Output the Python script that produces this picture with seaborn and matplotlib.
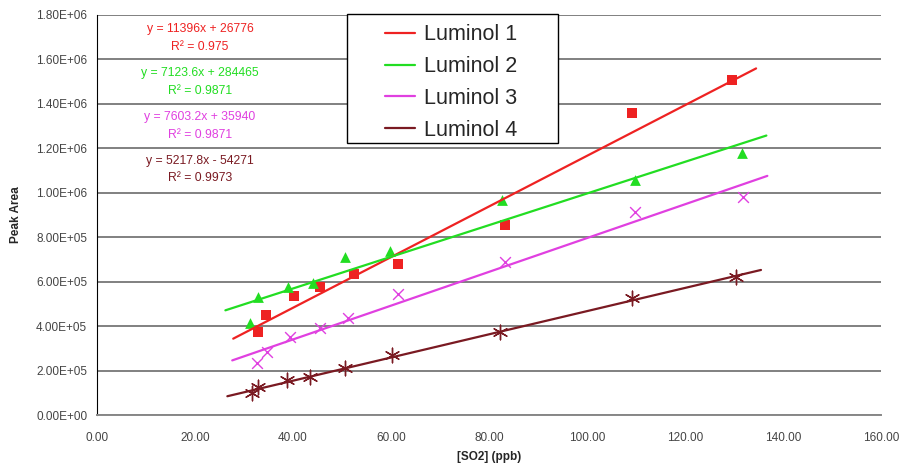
import numpy as np
import pandas as pd
import seaborn as sns
import matplotlib.pyplot as plt
from matplotlib.patches import Rectangle
from matplotlib.ticker import FuncFormatter

series = ["Luminol 1", "Luminol 2", "Luminol 3", "Luminol 4"]

x1 = [32.8, 34.4, 40.2, 45.5, 52.4, 61.5, 83.3, 109.1, 129.5]
y1 = [3.75e5, 4.50e5, 5.36e5, 5.78e5, 6.34e5, 6.79e5, 8.53e5, 1.359e6, 1.509e6]
x2 = [31.2, 32.9, 39.0, 44.0, 50.6, 59.8, 82.6, 109.8, 131.6]
y2 = [4.13e5, 5.33e5, 5.75e5, 5.93e5, 7.10e5, 7.40e5, 9.68e5, 1.059e6, 1.179e6]
x3 = [32.6, 34.6, 39.4, 45.5, 51.2, 61.5, 83.3, 109.8, 131.8]
y3 = [2.33e5, 2.85e5, 3.50e5, 3.92e5, 4.35e5, 5.45e5, 6.90e5, 9.15e5, 9.80e5]
x4 = [31.6, 32.9, 38.7, 43.5, 50.6, 60.1, 82.2, 109.1, 130.5]
y4 = [0.98e5, 1.27e5, 1.58e5, 1.73e5, 2.10e5, 2.70e5, 3.75e5, 5.26e5, 6.23e5]

slopes = [11396, 7123.6, 7603.2, 5217.8]
intercepts = [26776, 284465, 35940, -54271]
eq_labels = ["y = 11396x + 26776", "y = 7123.6x + 284465",
             "y = 7603.2x + 35940", "y = 5217.8x - 54271"]
r2_labels = ["R² = 0.975", "R² = 0.9871", "R² = 0.9871", "R² = 0.9973"]

colors = ["#ee2222", "#22dd22", "#e040e0", "#7a1a22"]
markers = ["s", "^", "x", (6, 2, 0)]
msizes = [55, 60, 60, 110]

xs = [x1, x2, x3, x4]
ys = [y1, y2, y3, y4]

# trend lines, extended 5 ppb beyond the data on both sides (Excel forecast)
rows = []
for x, s, m, b in zip(xs, series, slopes, intercepts):
    for xe in (min(x) - 5, max(x) + 5):
        rows.append({"x": xe, "y": m * xe + b, "series": s})
trend = pd.DataFrame(rows)

sns.set_style("white")
plt.rcParams["font.family"] = ["Liberation Sans", "DejaVu Sans"]

fig = plt.figure(figsize=(9.04, 4.67), dpi=100)
ax = fig.add_axes([0.1073, 0.1113, 0.8673, 0.8566])

pal = dict(zip(series, colors))
sns.lineplot(data=trend, x="x", y="y", hue="series", palette=pal,
             linewidth=1.6, ax=ax, legend=True)
for x, y, col, mk, ms in zip(xs, ys, colors, markers, msizes):
    if mk == "s" or mk == "^":
        sns.scatterplot(x=x, y=y, color=col, marker=mk, s=ms, linewidth=0,
                        ax=ax, legend=False)
    else:
        sns.scatterplot(x=x, y=y, color=col, marker=mk, s=ms, linewidth=1.0,
                        ax=ax, legend=False)

ax.set_xlim(0, 160)
ax.set_ylim(0, 1.8e6)
ax.set_xticks(np.arange(0, 161, 20))
ax.set_yticks(np.arange(0, 1.81e6, 2e5))
ax.xaxis.set_major_formatter(FuncFormatter(lambda v, p: f"{v:.2f}"))
ax.yaxis.set_major_formatter(FuncFormatter(lambda v, p: f"{v:.2E}"))
ax.tick_params(labelsize=8.5, labelcolor="#444444", length=3)
ax.tick_params(axis="x", direction="inout", length=4, color="#888888", pad=10)
ax.tick_params(axis="y", direction="out", length=3, color="#000000", pad=4)

ax.grid(axis="y", color="#808080", linewidth=1.4)
ax.set_axisbelow(True)
for side in ("top", "right"):
    ax.spines[side].set_visible(False)
ax.spines["left"].set_color("black")
ax.spines["bottom"].set_color("#888888")
ax.spines["bottom"].set_linewidth(1.4)

ax.set_xlabel("[SO2] (ppb)", fontsize=8.5, fontweight="bold", labelpad=5)
ax.set_ylabel("Peak Area", fontsize=8.5, fontweight="bold", labelpad=10)

ypos = [1.735e6, 1.54e6, 1.34e6, 1.145e6]
for eq, r2, col, yp in zip(eq_labels, r2_labels, colors, ypos):
    ax.text(21.0, yp, eq, color=col, fontsize=8.8, ha="center", va="center")
    ax.text(21.0, yp - 0.08e6, r2, color=col, fontsize=8.8, ha="center",
            va="center")

# legend box with wide side margins, like the Excel original
ax.add_patch(Rectangle((0.319, 0.68), 0.269, 0.3225, transform=ax.transAxes,
                       facecolor="white", edgecolor="black", linewidth=1.0,
                       zorder=5, clip_on=False))
leg = ax.legend(title=None, loc="upper left", bbox_to_anchor=(0.362, 0.9875),
                fontsize=15.5, frameon=False, handlelength=1.4,
                borderpad=0.2, labelspacing=0.5, handletextpad=0.4,
                borderaxespad=0)
leg.set_zorder(6)

fig.savefig("out.png", dpi=100)
